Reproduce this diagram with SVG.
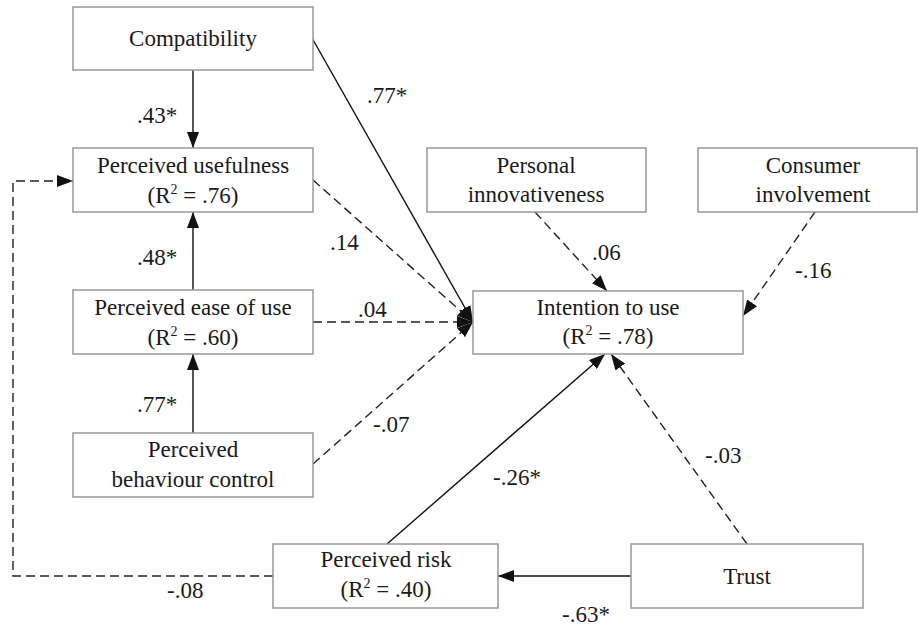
<svg xmlns="http://www.w3.org/2000/svg" width="918" height="630" viewBox="0 0 918 630" font-family="Liberation Serif, serif">
<defs>
<marker id="ah" markerUnits="userSpaceOnUse" markerWidth="16" markerHeight="12" refX="16" refY="6" orient="auto">
<path d="M0,0 L16,6 L0,12 z" fill="#111"/>
</marker>
<style>
.box{fill:#fff;stroke:#999;stroke-width:1.5}
.t{font-size:23px;fill:#1a1a1a;text-anchor:middle}
.l{font-size:23px;fill:#1a1a1a}
.s{fill:none;stroke:#111;stroke-width:1.4}
.d{fill:none;stroke:#222;stroke-width:1.4;stroke-dasharray:9,5}
.sup{font-size:14px}
</style>
</defs>
<rect width="918" height="630" fill="#fff"/>
<g id="connectors">
<line class="s" x1="193" y1="70" x2="193" y2="148" marker-end="url(#ah)"/>
<line class="s" x1="193" y1="290" x2="193" y2="212" marker-end="url(#ah)"/>
<line class="s" x1="193" y1="433" x2="193" y2="354" marker-end="url(#ah)"/>
<line class="s" x1="312" y1="38" x2="473" y2="322" marker-end="url(#ah)"/>
<line class="d" x1="313" y1="180" x2="473" y2="322" marker-end="url(#ah)"/>
<line class="d" x1="313" y1="322" x2="473" y2="322" marker-end="url(#ah)"/>
<line class="d" x1="313" y1="464" x2="473" y2="322" marker-end="url(#ah)"/>
<line class="d" x1="535" y1="212" x2="607" y2="291" marker-end="url(#ah)"/>
<line class="d" x1="815" y1="212" x2="743" y2="316" marker-end="url(#ah)"/>
<line class="s" x1="387" y1="544" x2="605" y2="354" marker-end="url(#ah)"/>
<line class="d" x1="747" y1="544" x2="611" y2="354" marker-end="url(#ah)"/>
<line class="s" x1="631" y1="576" x2="498" y2="576" marker-end="url(#ah)"/>
<path class="d" d="M273,576 H13 V181 H73" marker-end="url(#ah)"/>
<text class="l" x="137" y="123">.43*</text>
<text class="l" x="367" y="103">.77*</text>
<text class="l" x="330" y="250">.14</text>
<text class="l" x="137" y="265">.48*</text>
<text class="l" x="358" y="317">.04</text>
<text class="l" x="137" y="412">.77*</text>
<text class="l" x="373" y="432">-.07</text>
<text class="l" x="592" y="260">.06</text>
<text class="l" x="795" y="278">-.16</text>
<text class="l" x="493" y="485">-.26*</text>
<text class="l" x="705" y="463">-.03</text>
<text class="l" x="562" y="622">-.63*</text>
<text class="l" x="167" y="598">-.08</text>
</g>
<g id="compatibility">
<rect class="box" x="73" y="7" width="240" height="63"/>
<text class="t" x="193" y="46">Compatibility</text>
</g>
<g id="perceived-usefulness">
<rect class="box" x="73" y="148" width="240" height="64"/>
<text class="t" x="193" y="173">Perceived usefulness</text>
<text class="t" x="193" y="203">(R<tspan class="sup" dy="-9">2</tspan><tspan dy="9"> = .76)</tspan></text>
</g>
<g id="perceived-ease-of-use">
<rect class="box" x="73" y="290" width="240" height="64"/>
<text class="t" x="193" y="315">Perceived ease of use</text>
<text class="t" x="193" y="345">(R<tspan class="sup" dy="-9">2</tspan><tspan dy="9"> = .60)</tspan></text>
</g>
<g id="perceived-behaviour-control">
<rect class="box" x="73" y="433" width="240" height="64"/>
<text class="t" x="193" y="457">Perceived</text>
<text class="t" x="193" y="487">behaviour control</text>
</g>
<g id="personal-innovativeness">
<rect class="box" x="427" y="148" width="219" height="64"/>
<text class="t" x="536" y="173">Personal</text>
<text class="t" x="536" y="202">innovativeness</text>
</g>
<g id="consumer-involvement">
<rect class="box" x="698" y="148" width="219" height="64"/>
<text class="t" x="813" y="173">Consumer</text>
<text class="t" x="813" y="202">involvement</text>
</g>
<g id="intention-to-use">
<rect class="box" x="473" y="291" width="270" height="63"/>
<text class="t" x="608" y="315">Intention to use</text>
<text class="t" x="608" y="344">(R<tspan class="sup" dy="-9">2</tspan><tspan dy="9"> = .78)</tspan></text>
</g>
<g id="perceived-risk">
<rect class="box" x="273" y="544" width="225" height="64"/>
<text class="t" x="386" y="567">Perceived risk</text>
<text class="t" x="386" y="597">(R<tspan class="sup" dy="-9">2</tspan><tspan dy="9"> = .40)</tspan></text>
</g>
<g id="trust">
<rect class="box" x="631" y="544" width="232" height="64"/>
<text class="t" x="747" y="584">Trust</text>
</g>
</svg>
